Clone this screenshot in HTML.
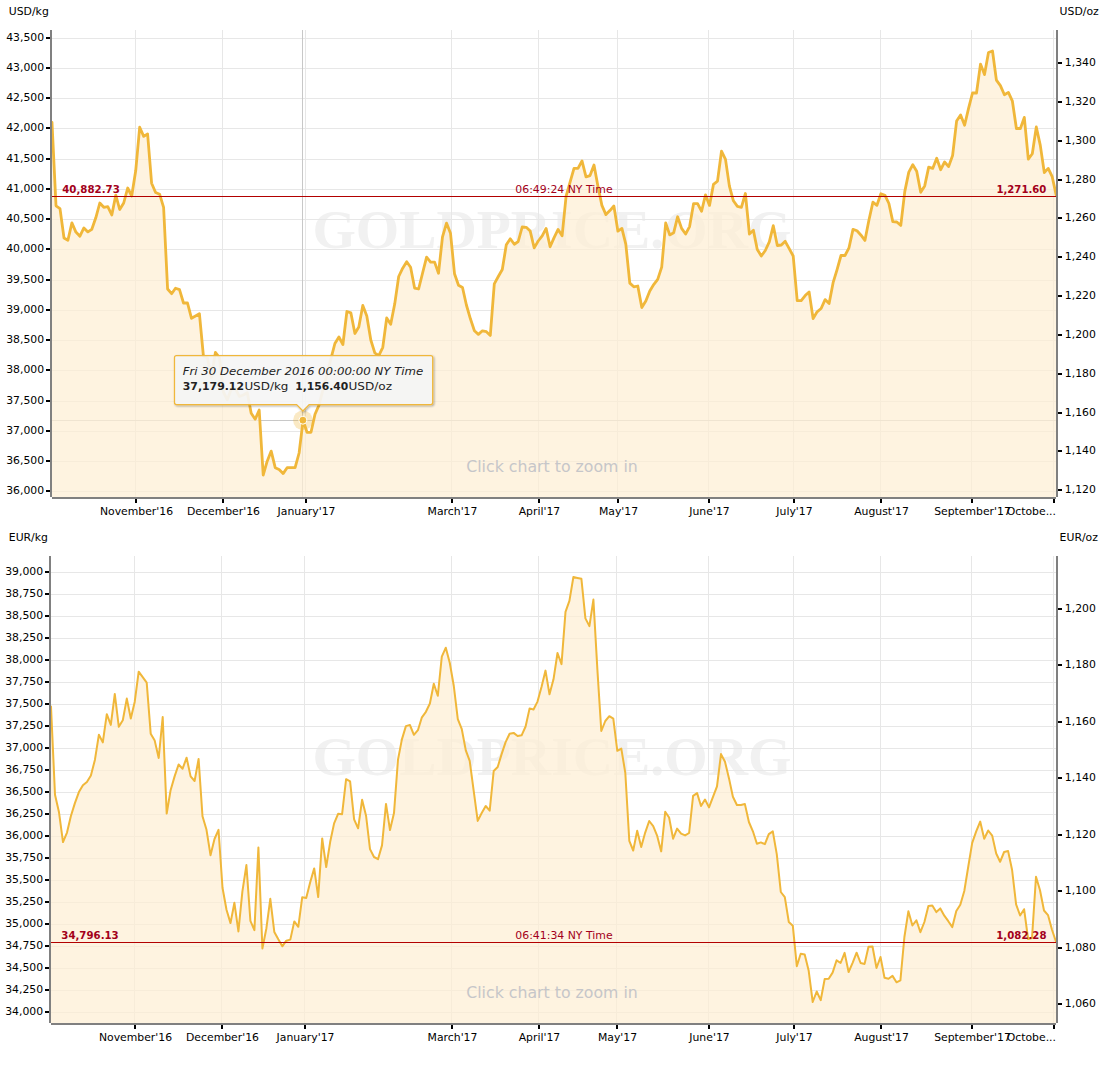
<!DOCTYPE html>
<html lang="en"><head><meta charset="utf-8"><title>Gold price charts</title>
<style>html,body{margin:0;padding:0;background:#fff}svg text{white-space:pre}</style></head>
<body>
<svg width="1103" height="1087" viewBox="0 0 1103 1087" style="display:block">
<rect width="1103" height="1087" fill="#fff"/>
<text x="312.4" y="247.8" font-family='"Liberation Serif", "DejaVu Serif", serif' font-weight="bold" font-size="54" fill="#f1f1f1" textLength="479" lengthAdjust="spacingAndGlyphs">GOLDPRICE.ORG</text>
<g fill="#e7e7e7"><rect x="52" y="38" width="1004" height="1"/><rect x="52" y="68" width="1004" height="1"/><rect x="52" y="98" width="1004" height="1"/><rect x="52" y="128" width="1004" height="1"/><rect x="52" y="159" width="1004" height="1"/><rect x="52" y="189" width="1004" height="1"/><rect x="52" y="219" width="1004" height="1"/><rect x="52" y="249" width="1004" height="1"/><rect x="52" y="280" width="1004" height="1"/><rect x="52" y="310" width="1004" height="1"/><rect x="52" y="340" width="1004" height="1"/><rect x="52" y="370" width="1004" height="1"/><rect x="52" y="401" width="1004" height="1"/><rect x="52" y="431" width="1004" height="1"/><rect x="52" y="461" width="1004" height="1"/><rect x="52" y="491" width="1004" height="1"/><rect x="135" y="30" width="1" height="467"/><rect x="222" y="30" width="1" height="467"/><rect x="305" y="30" width="1" height="467"/><rect x="451" y="30" width="1" height="467"/><rect x="538" y="30" width="1" height="467"/><rect x="617" y="30" width="1" height="467"/><rect x="708" y="30" width="1" height="467"/><rect x="793" y="30" width="1" height="467"/><rect x="880" y="30" width="1" height="467"/><rect x="971" y="30" width="1" height="467"/><rect x="1053" y="30" width="1" height="467"/></g>
<g fill="#c8c8c8"><rect x="302" y="30" width="1" height="467"/><rect x="52" y="420" width="1004" height="1"/></g>
<path d="M52.0,122.4 L56.0,205.8 L60.0,208.6 L64.0,238.0 L67.9,240.2 L71.9,222.9 L75.9,232.1 L79.9,236.2 L83.9,227.9 L87.9,231.9 L91.8,229.3 L95.8,217.8 L99.8,203.0 L103.8,207.3 L107.8,206.7 L111.8,215.0 L115.8,195.1 L119.7,209.5 L123.7,203.0 L127.7,188.0 L131.7,196.0 L135.7,170.8 L139.7,127.2 L143.7,136.4 L147.6,134.0 L151.6,183.2 L155.6,192.5 L159.6,194.2 L163.6,207.3 L167.6,289.0 L171.6,293.7 L175.5,288.2 L179.5,289.6 L183.5,303.0 L187.5,303.0 L191.5,318.3 L195.5,316.0 L199.4,313.7 L203.4,356.0 L207.4,358.0 L211.4,377.4 L215.4,352.4 L219.4,357.5 L223.4,392.0 L227.3,399.8 L231.3,389.0 L235.3,388.4 L239.3,396.5 L243.3,395.0 L247.3,392.8 L251.2,413.3 L255.2,419.2 L259.2,410.0 L263.2,475.0 L267.2,461.2 L271.2,451.1 L275.2,467.7 L279.1,469.5 L283.1,473.6 L287.1,467.7 L291.1,467.7 L295.1,467.7 L299.1,453.0 L303.1,420.2 L307.0,432.3 L311.0,432.3 L315.0,414.3 L319.0,405.1 L323.0,389.7 L327.0,374.3 L330.9,358.9 L334.9,343.5 L338.9,337.0 L342.9,344.5 L346.9,311.5 L350.9,312.9 L354.9,333.5 L358.8,327.1 L362.8,305.5 L366.8,316.0 L370.8,340.0 L374.8,352.8 L378.8,355.6 L382.8,347.3 L386.7,317.9 L390.7,324.3 L394.7,304.1 L398.7,276.5 L402.7,268.2 L406.7,261.8 L410.6,267.3 L414.6,288.1 L418.6,289.0 L422.6,273.0 L426.6,257.2 L430.6,262.1 L434.6,262.1 L438.5,273.3 L442.5,236.9 L446.5,223.1 L450.5,233.2 L454.5,273.7 L458.5,285.3 L462.5,287.5 L466.4,305.0 L470.4,318.8 L474.4,330.8 L478.4,334.4 L482.4,330.8 L486.4,331.7 L490.3,335.4 L494.3,283.8 L498.3,276.5 L502.3,269.5 L506.3,244.8 L510.3,238.8 L514.3,244.3 L518.2,241.5 L522.2,227.0 L526.2,227.3 L530.2,231.1 L534.2,247.9 L538.2,241.0 L542.2,235.8 L546.1,228.4 L550.1,246.8 L554.1,237.6 L558.1,229.4 L562.1,235.8 L566.1,196.2 L570.0,182.4 L574.0,168.3 L578.0,168.3 L582.0,160.9 L586.0,176.9 L590.0,175.6 L594.0,165.0 L597.9,186.1 L601.9,205.4 L605.9,214.6 L609.9,210.6 L613.9,206.0 L617.9,231.2 L621.9,228.4 L625.8,244.1 L629.8,283.1 L633.8,286.8 L637.8,286.0 L641.8,307.6 L645.8,301.1 L649.8,291.0 L653.7,284.6 L657.7,279.4 L661.7,267.1 L665.7,222.9 L669.7,234.9 L673.7,232.7 L677.6,216.8 L681.6,228.4 L685.6,234.0 L689.6,226.6 L693.6,203.6 L697.6,203.6 L701.6,211.3 L705.5,194.8 L709.5,205.4 L713.5,184.3 L717.5,181.1 L721.5,151.2 L725.5,159.4 L729.4,186.1 L733.4,200.8 L737.4,206.4 L741.4,207.3 L745.4,193.5 L749.4,234.0 L753.4,230.3 L757.3,249.6 L761.3,256.0 L765.3,250.5 L769.3,241.9 L773.3,225.7 L777.3,245.5 L781.3,245.0 L785.2,241.3 L789.2,248.7 L793.2,256.0 L797.2,300.7 L801.2,300.7 L805.2,295.6 L809.1,291.9 L813.1,318.6 L817.1,311.8 L821.1,308.5 L825.1,299.6 L829.1,303.5 L833.1,282.7 L837.0,269.8 L841.0,255.5 L845.0,255.5 L849.0,247.8 L853.0,229.4 L857.0,230.8 L861.0,235.2 L864.9,240.4 L868.9,220.2 L872.9,202.2 L876.9,205.3 L880.9,193.7 L884.9,195.2 L888.9,203.5 L892.8,221.6 L896.8,222.0 L900.8,225.4 L904.8,191.4 L908.8,172.1 L912.8,164.7 L916.7,171.2 L920.7,192.3 L924.7,185.9 L928.7,167.1 L932.7,168.4 L936.7,158.3 L940.7,169.7 L944.6,162.0 L948.6,166.6 L952.6,155.5 L956.6,121.1 L960.6,115.0 L964.6,125.2 L968.5,108.6 L972.5,93.0 L976.5,93.0 L980.5,64.1 L984.5,74.6 L988.5,52.5 L992.5,51.0 L996.4,80.1 L1000.4,85.6 L1004.4,94.8 L1008.4,92.4 L1012.4,101.2 L1016.4,128.5 L1020.4,128.5 L1024.3,117.4 L1028.3,159.2 L1032.3,153.7 L1036.3,127.0 L1040.3,145.4 L1044.3,172.6 L1048.2,168.4 L1052.2,176.7 L1056.2,195.1 L1056.2,497 L52.0,497 Z" fill="#feeed4" fill-opacity="0.72"/>
<path d="M52.0,122.4 L56.0,205.8 L60.0,208.6 L64.0,238.0 L67.9,240.2 L71.9,222.9 L75.9,232.1 L79.9,236.2 L83.9,227.9 L87.9,231.9 L91.8,229.3 L95.8,217.8 L99.8,203.0 L103.8,207.3 L107.8,206.7 L111.8,215.0 L115.8,195.1 L119.7,209.5 L123.7,203.0 L127.7,188.0 L131.7,196.0 L135.7,170.8 L139.7,127.2 L143.7,136.4 L147.6,134.0 L151.6,183.2 L155.6,192.5 L159.6,194.2 L163.6,207.3 L167.6,289.0 L171.6,293.7 L175.5,288.2 L179.5,289.6 L183.5,303.0 L187.5,303.0 L191.5,318.3 L195.5,316.0 L199.4,313.7 L203.4,356.0 L207.4,358.0 L211.4,377.4 L215.4,352.4 L219.4,357.5 L223.4,392.0 L227.3,399.8 L231.3,389.0 L235.3,388.4 L239.3,396.5 L243.3,395.0 L247.3,392.8 L251.2,413.3 L255.2,419.2 L259.2,410.0 L263.2,475.0 L267.2,461.2 L271.2,451.1 L275.2,467.7 L279.1,469.5 L283.1,473.6 L287.1,467.7 L291.1,467.7 L295.1,467.7 L299.1,453.0 L303.1,420.2 L307.0,432.3 L311.0,432.3 L315.0,414.3 L319.0,405.1 L323.0,389.7 L327.0,374.3 L330.9,358.9 L334.9,343.5 L338.9,337.0 L342.9,344.5 L346.9,311.5 L350.9,312.9 L354.9,333.5 L358.8,327.1 L362.8,305.5 L366.8,316.0 L370.8,340.0 L374.8,352.8 L378.8,355.6 L382.8,347.3 L386.7,317.9 L390.7,324.3 L394.7,304.1 L398.7,276.5 L402.7,268.2 L406.7,261.8 L410.6,267.3 L414.6,288.1 L418.6,289.0 L422.6,273.0 L426.6,257.2 L430.6,262.1 L434.6,262.1 L438.5,273.3 L442.5,236.9 L446.5,223.1 L450.5,233.2 L454.5,273.7 L458.5,285.3 L462.5,287.5 L466.4,305.0 L470.4,318.8 L474.4,330.8 L478.4,334.4 L482.4,330.8 L486.4,331.7 L490.3,335.4 L494.3,283.8 L498.3,276.5 L502.3,269.5 L506.3,244.8 L510.3,238.8 L514.3,244.3 L518.2,241.5 L522.2,227.0 L526.2,227.3 L530.2,231.1 L534.2,247.9 L538.2,241.0 L542.2,235.8 L546.1,228.4 L550.1,246.8 L554.1,237.6 L558.1,229.4 L562.1,235.8 L566.1,196.2 L570.0,182.4 L574.0,168.3 L578.0,168.3 L582.0,160.9 L586.0,176.9 L590.0,175.6 L594.0,165.0 L597.9,186.1 L601.9,205.4 L605.9,214.6 L609.9,210.6 L613.9,206.0 L617.9,231.2 L621.9,228.4 L625.8,244.1 L629.8,283.1 L633.8,286.8 L637.8,286.0 L641.8,307.6 L645.8,301.1 L649.8,291.0 L653.7,284.6 L657.7,279.4 L661.7,267.1 L665.7,222.9 L669.7,234.9 L673.7,232.7 L677.6,216.8 L681.6,228.4 L685.6,234.0 L689.6,226.6 L693.6,203.6 L697.6,203.6 L701.6,211.3 L705.5,194.8 L709.5,205.4 L713.5,184.3 L717.5,181.1 L721.5,151.2 L725.5,159.4 L729.4,186.1 L733.4,200.8 L737.4,206.4 L741.4,207.3 L745.4,193.5 L749.4,234.0 L753.4,230.3 L757.3,249.6 L761.3,256.0 L765.3,250.5 L769.3,241.9 L773.3,225.7 L777.3,245.5 L781.3,245.0 L785.2,241.3 L789.2,248.7 L793.2,256.0 L797.2,300.7 L801.2,300.7 L805.2,295.6 L809.1,291.9 L813.1,318.6 L817.1,311.8 L821.1,308.5 L825.1,299.6 L829.1,303.5 L833.1,282.7 L837.0,269.8 L841.0,255.5 L845.0,255.5 L849.0,247.8 L853.0,229.4 L857.0,230.8 L861.0,235.2 L864.9,240.4 L868.9,220.2 L872.9,202.2 L876.9,205.3 L880.9,193.7 L884.9,195.2 L888.9,203.5 L892.8,221.6 L896.8,222.0 L900.8,225.4 L904.8,191.4 L908.8,172.1 L912.8,164.7 L916.7,171.2 L920.7,192.3 L924.7,185.9 L928.7,167.1 L932.7,168.4 L936.7,158.3 L940.7,169.7 L944.6,162.0 L948.6,166.6 L952.6,155.5 L956.6,121.1 L960.6,115.0 L964.6,125.2 L968.5,108.6 L972.5,93.0 L976.5,93.0 L980.5,64.1 L984.5,74.6 L988.5,52.5 L992.5,51.0 L996.4,80.1 L1000.4,85.6 L1004.4,94.8 L1008.4,92.4 L1012.4,101.2 L1016.4,128.5 L1020.4,128.5 L1024.3,117.4 L1028.3,159.2 L1032.3,153.7 L1036.3,127.0 L1040.3,145.4 L1044.3,172.6 L1048.2,168.4 L1052.2,176.7 L1056.2,195.1" fill="none" stroke="#f0b73a" stroke-width="2.8" stroke-linejoin="round" stroke-linecap="round"/>
<rect x="52" y="196" width="1004" height="1" fill="#b20000"/>
<g fill="#808080"><rect x="50" y="30" width="2" height="467"/><rect x="1056" y="30" width="2" height="467"/><rect x="52" y="497" width="1004" height="2"/></g>
<g fill="#000"><rect x="46" y="37" width="4" height="2"/><rect x="46" y="67" width="4" height="2"/><rect x="46" y="97" width="4" height="2"/><rect x="46" y="127" width="4" height="2"/><rect x="46" y="158" width="4" height="2"/><rect x="46" y="188" width="4" height="2"/><rect x="46" y="218" width="4" height="2"/><rect x="46" y="248" width="4" height="2"/><rect x="46" y="279" width="4" height="2"/><rect x="46" y="309" width="4" height="2"/><rect x="46" y="339" width="4" height="2"/><rect x="46" y="369" width="4" height="2"/><rect x="46" y="400" width="4" height="2"/><rect x="46" y="430" width="4" height="2"/><rect x="46" y="460" width="4" height="2"/><rect x="46" y="490" width="4" height="2"/><rect x="1058" y="62" width="4" height="2"/><rect x="1058" y="101" width="4" height="2"/><rect x="1058" y="140" width="4" height="2"/><rect x="1058" y="179" width="4" height="2"/><rect x="1058" y="217" width="4" height="2"/><rect x="1058" y="256" width="4" height="2"/><rect x="1058" y="295" width="4" height="2"/><rect x="1058" y="334" width="4" height="2"/><rect x="1058" y="373" width="4" height="2"/><rect x="1058" y="412" width="4" height="2"/><rect x="1058" y="450" width="4" height="2"/><rect x="1058" y="489" width="4" height="2"/><rect x="135" y="499" width="2" height="4"/><rect x="222" y="499" width="2" height="4"/><rect x="305" y="499" width="2" height="4"/><rect x="451" y="499" width="2" height="4"/><rect x="538" y="499" width="2" height="4"/><rect x="617" y="499" width="2" height="4"/><rect x="708" y="499" width="2" height="4"/><rect x="793" y="499" width="2" height="4"/><rect x="880" y="499" width="2" height="4"/><rect x="971" y="499" width="2" height="4"/><rect x="1053" y="499" width="2" height="4"/></g>
<g font-family='"DejaVu Sans", "Liberation Sans", sans-serif' font-size="10.85" fill="#000"><text x="44.1" y="41.1" text-anchor="end">43,500</text><text x="44.1" y="71.1" text-anchor="end">43,000</text><text x="44.1" y="101.1" text-anchor="end">42,500</text><text x="44.1" y="131.1" text-anchor="end">42,000</text><text x="44.1" y="162.1" text-anchor="end">41,500</text><text x="44.1" y="192.1" text-anchor="end">41,000</text><text x="44.1" y="222.1" text-anchor="end">40,500</text><text x="44.1" y="252.1" text-anchor="end">40,000</text><text x="44.1" y="283.1" text-anchor="end">39,500</text><text x="44.1" y="313.1" text-anchor="end">39,000</text><text x="44.1" y="343.1" text-anchor="end">38,500</text><text x="44.1" y="373.1" text-anchor="end">38,000</text><text x="44.1" y="404.1" text-anchor="end">37,500</text><text x="44.1" y="434.1" text-anchor="end">37,000</text><text x="44.1" y="464.1" text-anchor="end">36,500</text><text x="44.1" y="494.1" text-anchor="end">36,000</text><text x="1064.8" y="66.1">1,340</text><text x="1064.8" y="105.1">1,320</text><text x="1064.8" y="144.1">1,300</text><text x="1064.8" y="183.1">1,280</text><text x="1064.8" y="221.1">1,260</text><text x="1064.8" y="260.1">1,240</text><text x="1064.8" y="299.1">1,220</text><text x="1064.8" y="338.1">1,200</text><text x="1064.8" y="377.1">1,180</text><text x="1064.8" y="416.1">1,160</text><text x="1064.8" y="454.1">1,140</text><text x="1064.8" y="493.1">1,120</text><text x="136.5" y="515.4" text-anchor="middle">November'16</text><text x="223.5" y="515.4" text-anchor="middle">December'16</text><text x="306.5" y="515.4" text-anchor="middle">January'17</text><text x="452.5" y="515.4" text-anchor="middle">March'17</text><text x="539.5" y="515.4" text-anchor="middle">April'17</text><text x="618.5" y="515.4" text-anchor="middle">May'17</text><text x="709.5" y="515.4" text-anchor="middle">June'17</text><text x="794.5" y="515.4" text-anchor="middle">July'17</text><text x="881.5" y="515.4" text-anchor="middle">August'17</text><text x="972.5" y="515.4" text-anchor="middle">September'17</text><text x="1056" y="515.4" text-anchor="end">Octobe...</text><text x="8.8" y="15.2">USD/kg</text><text x="1059.6" y="15.2">USD/oz</text></g>
<g font-family='"DejaVu Sans", "Liberation Sans", sans-serif' font-size="10.9" fill="#a3001a"><text x="62.2" y="193.0" font-weight="bold" textLength="57.6" lengthAdjust="spacingAndGlyphs">40,882.73</text><text x="564" y="193.0" text-anchor="middle">06:49:24 NY Time</text><text x="996.5" y="193.0" font-weight="bold" textLength="49.8" lengthAdjust="spacingAndGlyphs">1,271.60</text></g>
<text x="552" y="472" text-anchor="middle" font-family='"DejaVu Sans", "Liberation Sans", sans-serif' font-size="15.75" fill="#c6c6c9">Click chart to zoom in</text>
<text x="312.4" y="774.5" font-family='"Liberation Serif", "DejaVu Serif", serif' font-weight="bold" font-size="54" fill="#f1f1f1" textLength="479" lengthAdjust="spacingAndGlyphs">GOLDPRICE.ORG</text>
<g fill="#e7e7e7"><rect x="51" y="572" width="1005" height="1"/><rect x="51" y="594" width="1005" height="1"/><rect x="51" y="616" width="1005" height="1"/><rect x="51" y="638" width="1005" height="1"/><rect x="51" y="660" width="1005" height="1"/><rect x="51" y="682" width="1005" height="1"/><rect x="51" y="704" width="1005" height="1"/><rect x="51" y="726" width="1005" height="1"/><rect x="51" y="748" width="1005" height="1"/><rect x="51" y="770" width="1005" height="1"/><rect x="51" y="792" width="1005" height="1"/><rect x="51" y="814" width="1005" height="1"/><rect x="51" y="836" width="1005" height="1"/><rect x="51" y="858" width="1005" height="1"/><rect x="51" y="880" width="1005" height="1"/><rect x="51" y="902" width="1005" height="1"/><rect x="51" y="924" width="1005" height="1"/><rect x="51" y="946" width="1005" height="1"/><rect x="51" y="968" width="1005" height="1"/><rect x="51" y="990" width="1005" height="1"/><rect x="51" y="1012" width="1005" height="1"/><rect x="134" y="556" width="1" height="467"/><rect x="221" y="556" width="1" height="467"/><rect x="304" y="556" width="1" height="467"/><rect x="451" y="556" width="1" height="467"/><rect x="538" y="556" width="1" height="467"/><rect x="616" y="556" width="1" height="467"/><rect x="708" y="556" width="1" height="467"/><rect x="793" y="556" width="1" height="467"/><rect x="880" y="556" width="1" height="467"/><rect x="971" y="556" width="1" height="467"/><rect x="1053" y="556" width="1" height="467"/></g>
<path d="M51.0,706.5 L55.0,794.8 L59.0,812.3 L63.0,842.1 L67.0,832.6 L70.9,816.0 L74.9,803.1 L78.9,792.1 L82.9,785.3 L86.9,782.0 L90.9,775.5 L94.9,759.9 L98.9,734.7 L102.8,742.4 L106.8,714.2 L110.8,724.9 L114.8,694.0 L118.8,726.8 L122.8,720.3 L126.8,698.6 L130.8,718.5 L134.7,701.9 L138.7,671.7 L142.7,677.1 L146.7,682.6 L150.7,733.7 L154.7,740.6 L158.7,758.0 L162.7,717.0 L166.7,813.6 L170.6,790.2 L174.6,776.4 L178.6,764.5 L182.6,768.7 L186.6,757.7 L190.6,776.4 L194.6,781.0 L198.6,759.0 L202.5,816.2 L206.5,829.8 L210.5,855.2 L214.5,839.0 L218.5,829.8 L222.5,887.8 L226.5,909.8 L230.5,923.1 L234.4,902.8 L238.4,931.4 L242.4,891.4 L246.4,865.1 L250.4,920.9 L254.4,930.1 L258.4,847.6 L262.4,948.5 L266.4,928.2 L270.3,898.8 L274.3,931.9 L278.3,939.3 L282.3,946.3 L286.3,940.7 L290.3,939.6 L294.3,921.4 L298.3,926.8 L302.2,897.3 L306.2,897.9 L310.2,882.2 L314.2,868.4 L318.2,897.0 L322.2,838.4 L326.2,867.0 L330.2,841.8 L334.1,823.4 L338.1,813.8 L342.1,814.2 L346.1,779.2 L350.1,781.4 L354.1,819.3 L358.1,828.3 L362.1,799.8 L366.1,816.0 L370.0,849.1 L374.0,857.0 L378.0,859.2 L382.0,845.4 L386.0,803.9 L390.0,830.1 L394.0,813.1 L398.0,759.6 L401.9,739.4 L405.9,726.1 L409.9,725.0 L413.9,734.8 L417.9,730.2 L421.9,717.3 L425.9,711.8 L429.9,703.5 L433.8,683.8 L437.8,695.8 L441.8,656.6 L445.8,647.7 L449.8,663.0 L453.8,686.0 L457.8,719.1 L461.8,729.2 L465.8,750.4 L469.7,760.9 L473.7,790.9 L477.7,820.9 L481.7,813.0 L485.7,806.0 L489.7,810.7 L493.7,771.0 L497.7,767.0 L501.6,754.1 L505.6,742.1 L509.6,733.8 L513.6,732.9 L517.6,736.0 L521.6,735.3 L525.6,726.5 L529.6,708.4 L533.5,709.5 L537.5,701.6 L541.5,686.9 L545.5,670.6 L549.5,694.3 L553.5,679.3 L557.5,653.0 L561.5,664.1 L565.5,611.9 L569.4,600.9 L573.4,577.0 L577.4,577.9 L581.4,578.8 L585.4,618.4 L589.4,626.1 L593.4,599.6 L597.4,669.9 L601.3,731.0 L605.3,721.0 L609.3,716.2 L613.3,718.6 L617.3,750.8 L621.3,748.6 L625.3,772.8 L629.3,840.9 L633.2,850.5 L637.2,830.8 L641.2,847.0 L645.2,832.6 L649.2,821.0 L653.2,826.2 L657.2,835.9 L661.2,851.4 L665.2,811.8 L669.1,817.5 L673.1,838.7 L677.1,828.6 L681.1,833.6 L685.1,835.4 L689.1,833.0 L693.1,795.8 L697.1,793.1 L701.0,806.0 L705.0,799.5 L709.0,807.4 L713.0,796.8 L717.0,786.3 L721.0,754.1 L725.0,761.8 L729.0,778.4 L732.9,796.8 L736.9,805.0 L740.9,805.0 L744.9,804.1 L748.9,822.0 L752.9,831.3 L756.9,843.7 L760.9,842.4 L764.9,844.2 L768.8,834.1 L772.8,831.4 L776.8,854.3 L780.8,892.0 L784.8,897.1 L788.8,922.0 L792.8,925.7 L796.8,966.2 L800.7,953.8 L804.7,954.6 L808.7,970.8 L812.7,1002.0 L816.7,991.5 L820.7,1000.2 L824.7,979.0 L828.7,978.7 L832.6,972.6 L836.6,960.3 L840.6,963.0 L844.6,952.9 L848.6,972.0 L852.6,962.8 L856.6,952.7 L860.6,963.0 L864.6,963.9 L868.5,946.8 L872.5,946.5 L876.5,968.0 L880.5,957.0 L884.5,977.7 L888.5,978.7 L892.5,975.9 L896.5,982.3 L900.4,980.3 L904.4,937.0 L908.4,911.2 L912.4,925.5 L916.4,920.3 L920.4,932.2 L924.4,922.0 L928.4,905.9 L932.3,905.5 L936.3,912.1 L940.3,908.4 L944.3,915.7 L948.3,921.2 L952.3,927.1 L956.3,911.0 L960.3,904.8 L964.3,891.0 L968.2,867.0 L972.2,842.8 L976.2,831.4 L980.2,821.6 L984.2,838.8 L988.2,830.5 L992.2,835.6 L996.2,853.5 L1000.1,861.8 L1004.1,852.0 L1008.1,851.1 L1012.1,870.0 L1016.1,904.4 L1020.1,915.5 L1024.1,909.2 L1028.1,939.0 L1032.0,938.1 L1036.0,876.8 L1040.0,890.3 L1044.0,910.5 L1048.0,915.1 L1052.0,929.8 L1056.0,941.8 L1056.0,1023 L51.0,1023 Z" fill="#feeed4" fill-opacity="0.72"/>
<path d="M51.0,706.5 L55.0,794.8 L59.0,812.3 L63.0,842.1 L67.0,832.6 L70.9,816.0 L74.9,803.1 L78.9,792.1 L82.9,785.3 L86.9,782.0 L90.9,775.5 L94.9,759.9 L98.9,734.7 L102.8,742.4 L106.8,714.2 L110.8,724.9 L114.8,694.0 L118.8,726.8 L122.8,720.3 L126.8,698.6 L130.8,718.5 L134.7,701.9 L138.7,671.7 L142.7,677.1 L146.7,682.6 L150.7,733.7 L154.7,740.6 L158.7,758.0 L162.7,717.0 L166.7,813.6 L170.6,790.2 L174.6,776.4 L178.6,764.5 L182.6,768.7 L186.6,757.7 L190.6,776.4 L194.6,781.0 L198.6,759.0 L202.5,816.2 L206.5,829.8 L210.5,855.2 L214.5,839.0 L218.5,829.8 L222.5,887.8 L226.5,909.8 L230.5,923.1 L234.4,902.8 L238.4,931.4 L242.4,891.4 L246.4,865.1 L250.4,920.9 L254.4,930.1 L258.4,847.6 L262.4,948.5 L266.4,928.2 L270.3,898.8 L274.3,931.9 L278.3,939.3 L282.3,946.3 L286.3,940.7 L290.3,939.6 L294.3,921.4 L298.3,926.8 L302.2,897.3 L306.2,897.9 L310.2,882.2 L314.2,868.4 L318.2,897.0 L322.2,838.4 L326.2,867.0 L330.2,841.8 L334.1,823.4 L338.1,813.8 L342.1,814.2 L346.1,779.2 L350.1,781.4 L354.1,819.3 L358.1,828.3 L362.1,799.8 L366.1,816.0 L370.0,849.1 L374.0,857.0 L378.0,859.2 L382.0,845.4 L386.0,803.9 L390.0,830.1 L394.0,813.1 L398.0,759.6 L401.9,739.4 L405.9,726.1 L409.9,725.0 L413.9,734.8 L417.9,730.2 L421.9,717.3 L425.9,711.8 L429.9,703.5 L433.8,683.8 L437.8,695.8 L441.8,656.6 L445.8,647.7 L449.8,663.0 L453.8,686.0 L457.8,719.1 L461.8,729.2 L465.8,750.4 L469.7,760.9 L473.7,790.9 L477.7,820.9 L481.7,813.0 L485.7,806.0 L489.7,810.7 L493.7,771.0 L497.7,767.0 L501.6,754.1 L505.6,742.1 L509.6,733.8 L513.6,732.9 L517.6,736.0 L521.6,735.3 L525.6,726.5 L529.6,708.4 L533.5,709.5 L537.5,701.6 L541.5,686.9 L545.5,670.6 L549.5,694.3 L553.5,679.3 L557.5,653.0 L561.5,664.1 L565.5,611.9 L569.4,600.9 L573.4,577.0 L577.4,577.9 L581.4,578.8 L585.4,618.4 L589.4,626.1 L593.4,599.6 L597.4,669.9 L601.3,731.0 L605.3,721.0 L609.3,716.2 L613.3,718.6 L617.3,750.8 L621.3,748.6 L625.3,772.8 L629.3,840.9 L633.2,850.5 L637.2,830.8 L641.2,847.0 L645.2,832.6 L649.2,821.0 L653.2,826.2 L657.2,835.9 L661.2,851.4 L665.2,811.8 L669.1,817.5 L673.1,838.7 L677.1,828.6 L681.1,833.6 L685.1,835.4 L689.1,833.0 L693.1,795.8 L697.1,793.1 L701.0,806.0 L705.0,799.5 L709.0,807.4 L713.0,796.8 L717.0,786.3 L721.0,754.1 L725.0,761.8 L729.0,778.4 L732.9,796.8 L736.9,805.0 L740.9,805.0 L744.9,804.1 L748.9,822.0 L752.9,831.3 L756.9,843.7 L760.9,842.4 L764.9,844.2 L768.8,834.1 L772.8,831.4 L776.8,854.3 L780.8,892.0 L784.8,897.1 L788.8,922.0 L792.8,925.7 L796.8,966.2 L800.7,953.8 L804.7,954.6 L808.7,970.8 L812.7,1002.0 L816.7,991.5 L820.7,1000.2 L824.7,979.0 L828.7,978.7 L832.6,972.6 L836.6,960.3 L840.6,963.0 L844.6,952.9 L848.6,972.0 L852.6,962.8 L856.6,952.7 L860.6,963.0 L864.6,963.9 L868.5,946.8 L872.5,946.5 L876.5,968.0 L880.5,957.0 L884.5,977.7 L888.5,978.7 L892.5,975.9 L896.5,982.3 L900.4,980.3 L904.4,937.0 L908.4,911.2 L912.4,925.5 L916.4,920.3 L920.4,932.2 L924.4,922.0 L928.4,905.9 L932.3,905.5 L936.3,912.1 L940.3,908.4 L944.3,915.7 L948.3,921.2 L952.3,927.1 L956.3,911.0 L960.3,904.8 L964.3,891.0 L968.2,867.0 L972.2,842.8 L976.2,831.4 L980.2,821.6 L984.2,838.8 L988.2,830.5 L992.2,835.6 L996.2,853.5 L1000.1,861.8 L1004.1,852.0 L1008.1,851.1 L1012.1,870.0 L1016.1,904.4 L1020.1,915.5 L1024.1,909.2 L1028.1,939.0 L1032.0,938.1 L1036.0,876.8 L1040.0,890.3 L1044.0,910.5 L1048.0,915.1 L1052.0,929.8 L1056.0,941.8" fill="none" stroke="#f0b73a" stroke-width="2.0" stroke-linejoin="round" stroke-linecap="round"/>
<rect x="51" y="942" width="1005" height="1" fill="#b20000"/>
<g fill="#808080"><rect x="49" y="556" width="2" height="467"/><rect x="1056" y="556" width="2" height="467"/><rect x="51" y="1023" width="1005" height="2"/></g>
<g fill="#000"><rect x="45" y="571" width="4" height="2"/><rect x="45" y="593" width="4" height="2"/><rect x="45" y="615" width="4" height="2"/><rect x="45" y="637" width="4" height="2"/><rect x="45" y="659" width="4" height="2"/><rect x="45" y="681" width="4" height="2"/><rect x="45" y="703" width="4" height="2"/><rect x="45" y="725" width="4" height="2"/><rect x="45" y="747" width="4" height="2"/><rect x="45" y="769" width="4" height="2"/><rect x="45" y="791" width="4" height="2"/><rect x="45" y="813" width="4" height="2"/><rect x="45" y="835" width="4" height="2"/><rect x="45" y="857" width="4" height="2"/><rect x="45" y="879" width="4" height="2"/><rect x="45" y="901" width="4" height="2"/><rect x="45" y="923" width="4" height="2"/><rect x="45" y="945" width="4" height="2"/><rect x="45" y="967" width="4" height="2"/><rect x="45" y="989" width="4" height="2"/><rect x="45" y="1011" width="4" height="2"/><rect x="1058" y="608" width="4" height="2"/><rect x="1058" y="664" width="4" height="2"/><rect x="1058" y="721" width="4" height="2"/><rect x="1058" y="777" width="4" height="2"/><rect x="1058" y="834" width="4" height="2"/><rect x="1058" y="890" width="4" height="2"/><rect x="1058" y="947" width="4" height="2"/><rect x="1058" y="1003" width="4" height="2"/><rect x="134" y="1025" width="2" height="4"/><rect x="221" y="1025" width="2" height="4"/><rect x="304" y="1025" width="2" height="4"/><rect x="451" y="1025" width="2" height="4"/><rect x="538" y="1025" width="2" height="4"/><rect x="616" y="1025" width="2" height="4"/><rect x="708" y="1025" width="2" height="4"/><rect x="793" y="1025" width="2" height="4"/><rect x="880" y="1025" width="2" height="4"/><rect x="971" y="1025" width="2" height="4"/><rect x="1053" y="1025" width="2" height="4"/></g>
<g font-family='"DejaVu Sans", "Liberation Sans", sans-serif' font-size="10.85" fill="#000"><text x="43.1" y="575.1" text-anchor="end">39,000</text><text x="43.1" y="597.1" text-anchor="end">38,750</text><text x="43.1" y="619.1" text-anchor="end">38,500</text><text x="43.1" y="641.1" text-anchor="end">38,250</text><text x="43.1" y="663.1" text-anchor="end">38,000</text><text x="43.1" y="685.1" text-anchor="end">37,750</text><text x="43.1" y="707.1" text-anchor="end">37,500</text><text x="43.1" y="729.1" text-anchor="end">37,250</text><text x="43.1" y="751.1" text-anchor="end">37,000</text><text x="43.1" y="773.1" text-anchor="end">36,750</text><text x="43.1" y="795.1" text-anchor="end">36,500</text><text x="43.1" y="817.1" text-anchor="end">36,250</text><text x="43.1" y="839.1" text-anchor="end">36,000</text><text x="43.1" y="861.1" text-anchor="end">35,750</text><text x="43.1" y="883.1" text-anchor="end">35,500</text><text x="43.1" y="905.1" text-anchor="end">35,250</text><text x="43.1" y="927.1" text-anchor="end">35,000</text><text x="43.1" y="949.1" text-anchor="end">34,750</text><text x="43.1" y="971.1" text-anchor="end">34,500</text><text x="43.1" y="993.1" text-anchor="end">34,250</text><text x="43.1" y="1015.1" text-anchor="end">34,000</text><text x="1064.8" y="612.1">1,200</text><text x="1064.8" y="668.1">1,180</text><text x="1064.8" y="725.1">1,160</text><text x="1064.8" y="781.1">1,140</text><text x="1064.8" y="838.1">1,120</text><text x="1064.8" y="894.1">1,100</text><text x="1064.8" y="951.1">1,080</text><text x="1064.8" y="1007.1">1,060</text><text x="135.5" y="1041.4" text-anchor="middle">November'16</text><text x="222.5" y="1041.4" text-anchor="middle">December'16</text><text x="305.5" y="1041.4" text-anchor="middle">January'17</text><text x="452.5" y="1041.4" text-anchor="middle">March'17</text><text x="539.5" y="1041.4" text-anchor="middle">April'17</text><text x="617.5" y="1041.4" text-anchor="middle">May'17</text><text x="709.5" y="1041.4" text-anchor="middle">June'17</text><text x="794.5" y="1041.4" text-anchor="middle">July'17</text><text x="881.5" y="1041.4" text-anchor="middle">August'17</text><text x="972.5" y="1041.4" text-anchor="middle">September'17</text><text x="1056" y="1041.4" text-anchor="end">Octobe...</text><text x="8.8" y="541.2">EUR/kg</text><text x="1059.6" y="541.2">EUR/oz</text></g>
<g font-family='"DejaVu Sans", "Liberation Sans", sans-serif' font-size="10.9" fill="#a3001a"><text x="61.3" y="939.0" font-weight="bold" textLength="57.4" lengthAdjust="spacingAndGlyphs">34,796.13</text><text x="564" y="939.0" text-anchor="middle">06:41:34 NY Time</text><text x="996.3" y="939.0" font-weight="bold" textLength="50.2" lengthAdjust="spacingAndGlyphs">1,082.28</text></g>
<text x="552" y="997.7" text-anchor="middle" font-family='"DejaVu Sans", "Liberation Sans", sans-serif' font-size="15.75" fill="#c6c6c9">Click chart to zoom in</text>
<circle cx="302.9" cy="420.2" r="9.8" fill="#f0b73a" fill-opacity="0.3"/>
<circle cx="302.9" cy="420.2" r="4" fill="#f0b73a" stroke="#fff" stroke-width="1"/>
<defs><filter id="sh" x="-5%" y="-10%" width="110%" height="130%"><feGaussianBlur in="SourceAlpha" stdDeviation="1"/><feOffset dx="1" dy="1"/><feComponentTransfer><feFuncA type="linear" slope="0.35"/></feComponentTransfer><feMerge><feMergeNode/><feMergeNode in="SourceGraphic"/></feMerge></filter></defs>
<path filter="url(#sh)" d="M176.5,355.5 H430.7 Q432.7,355.5 432.7,357.5 V402.5 Q432.7,404.5 430.7,404.5 H309.2 L302.9,411 L296.6,404.5 H176.5 Q174.5,404.5 174.5,402.5 V357.5 Q174.5,355.5 176.5,355.5 Z" fill="#f8f8f8" fill-opacity="0.9" stroke="#f0b73a" stroke-width="1.25"/>
<g font-family='"DejaVu Sans", "Liberation Sans", sans-serif' font-size="11.3" fill="#222"><text x="182.8" y="374.5" font-style="italic" textLength="240.4" lengthAdjust="spacingAndGlyphs">Fri 30 December 2016 00:00:00 NY Time</text><text x="182.8" y="389.6" font-weight="bold" textLength="61.2" lengthAdjust="spacingAndGlyphs">37,179.12</text><text x="244.4" y="389.6" textLength="44" lengthAdjust="spacingAndGlyphs">USD/kg</text><text x="295.2" y="389.6" font-weight="bold" textLength="53" lengthAdjust="spacingAndGlyphs">1,156.40</text><text x="348.5" y="389.6" textLength="43.6" lengthAdjust="spacingAndGlyphs">USD/oz</text></g>
</svg>
</body></html>
